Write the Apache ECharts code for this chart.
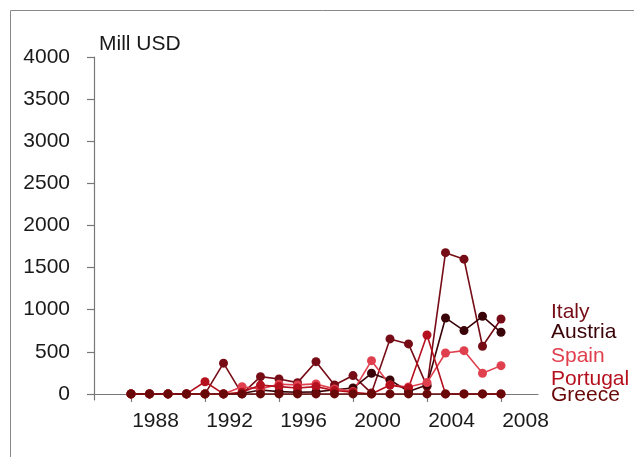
<!DOCTYPE html>
<html>
<head>
<meta charset="utf-8">
<script src="https://cdn.jsdelivr.net/npm/echarts@6/dist/echarts.min.js"></script>
<style>
  html, body { margin: 0; padding: 0; background: #fff; }
  #chart { width: 634px; height: 457px; }
</style>
</head>
<body>
<div id="chart"></div>
<script>
    var years = [1987, 1988, 1989, 1990, 1991, 1992, 1993, 1994, 1995, 1996, 1997,
                 1998, 1999, 2000, 2001, 2002, 2003, 2004, 2005, 2006, 2007];

    var italy    = [0, 0, 0, 0, 0, 365, 0, 205, 178, 134, 383, 107, 218, 10, 653, 594, 90, 1677, 1600, 566, 890];
    var austria  = [0, 0, 0, 0, 0, 0, 5, 47, 27, 20, 24, 50, 70, 245, 166, 30, 107, 902, 752, 922, 732];
    var spain    = [0, 0, 0, 0, 0, 0, 85, 60, 115, 107, 119, 60, 30, 395, 107, 83, 135, 486, 514, 245, 336];
    var portugal = [0, 0, 0, 0, 145, 0, 20, 105, 87, 70, 87, 40, 20, 0, 105, 70, 700, 0, 0, 0, 0];
    var greece   = [0, 0, 0, 0, 0, 0, 0, 0, 0, 0, 0, 0, 0, 0, 0, 0, 0, 0, 0, 0, 0];

    var xLabels = [1988, 1992, 1996, 2000, 2004, 2008];
    var xTicks  = [1987, 1991, 1995, 1999, 2003, 2007];
    var yLabels = [0, 500, 1000, 1500, 2000, 2500, 3000, 3500, 4000];

    var FONT = '"Liberation Sans", Arial, sans-serif';

    function pairs(vals) {
        return years.map(function(y, i) { return [y, vals[i]]; });
    }

    function makeSeries(name, vals, color, dy) {
        return {
            name: name,
            type: 'line',
            data: pairs(vals),
            symbol: 'circle',
            symbolSize: 9,
            silent: true,
            animation: false,
            lineStyle: { color: color, width: 1.6 },
            itemStyle: { color: color },
            endLabel: {
                show: true,
                formatter: name,
                color: color,
                fontSize: 21,
                fontFamily: FONT,
                distance: 50,
                offset: [0, dy]
            }
        };
    }

    var chart = echarts.init(document.getElementById('chart'));

    var option = {
        backgroundColor: '#fff',
        animation: false,
        graphic: [{
            type: 'rect',
            silent: true,
            shape: { x: 10.5, y: 10.5, width: 640, height: 460 },
            style: { fill: 'none', stroke: '#888', lineWidth: 1 }
        }],
        title: {
            text: 'Mill USD',
            left: 94,
            top: 29,
            textStyle: { fontSize: 21, fontWeight: 'normal', color: '#1a1a1a', fontFamily: FONT }
        },
        grid: { left: 94, right: 96, top: 57, bottom: 57 },
        xAxis: {
            type: 'value',
            min: 1985,
            max: 2009,
            splitLine: { show: false },
            axisLine: { lineStyle: { color: '#777', width: 1.2 } },
            axisTick: { customValues: xTicks, length: 8, lineStyle: { color: '#777', width: 1.2 } },
            axisLabel: {
                customValues: xLabels,
                formatter: function(v) { return String(v); },
                color: '#1a1a1a',
                fontSize: 21,
                fontFamily: FONT,
                margin: 11,
                padding: [0, 0, 0, 12]
            }
        },
        yAxis: {
            type: 'value',
            min: -72,
            max: 4000,
            splitLine: { show: false },
            axisLine: { show: true, lineStyle: { color: '#777', width: 1.2 } },
            axisTick: { show: true, customValues: yLabels, length: 7, lineStyle: { color: '#777', width: 1.2 } },
            axisLabel: {
                customValues: yLabels,
                formatter: function(v) { return String(v); },
                color: '#1a1a1a',
                fontSize: 21,
                fontFamily: FONT,
                margin: 24
            }
        },
        series: [
            makeSeries('Italy', italy, '#760c16', -7),
            makeSeries('Austria', austria, '#3a0307', 0),
            makeSeries('Spain', spain, '#e0404e', -9),
            makeSeries('Portugal', portugal, '#b5101e', -15),
            makeSeries('Greece', greece, '#680808', 1)
        ]
    };

    chart.setOption(option);
</script>
</body>
</html>
